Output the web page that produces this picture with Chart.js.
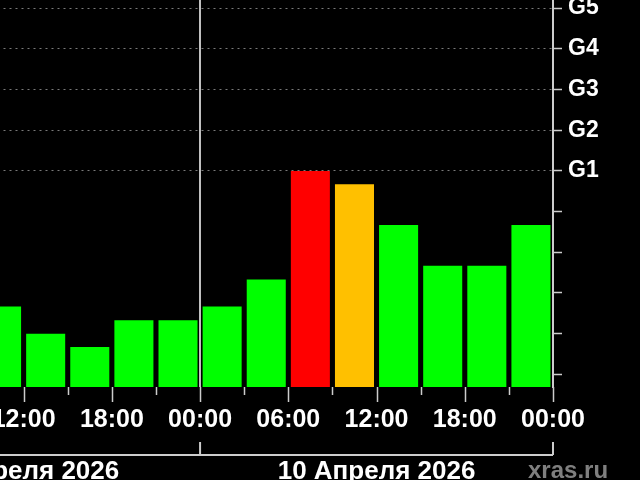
<!DOCTYPE html>
<html>
<head>
<meta charset="utf-8">
<script src="https://cdn.jsdelivr.net/npm/chart.js@4/dist/chart.umd.min.js"></script>
<style>
  html, body { margin: 0; padding: 0; background: #000; overflow: hidden; }
  #wrap { position: relative; width: 640px; height: 480px; overflow: hidden; }
  #kpChart { position: absolute; left: -40px; top: 0; }
</style>
</head>
<body>
<div id="wrap"><canvas id="kpChart" width="680" height="480"></canvas></div>
<script>
// start hour of each 3h interval, counted from 9 Apr 00:00
const hours = [9, 12, 15, 18, 21, 24, 27, 30, 33, 36, 39, 42, 45];
const kp = [1.67, 1.0, 0.67, 1.33, 1.33, 1.67, 2.33, 5.0, 4.67, 3.67, 2.67, 2.67, 3.67];

const kpTicks = [0, 1, 2, 3, 4, 5, 6, 7, 8, 9];
const kpLabels = ['', '', '', '', '', 'G1', 'G2', 'G3', 'G4', 'G5'];

const timeTicks = [9, 12, 15, 18, 21, 24, 27, 30, 33, 36, 39, 42, 45, 48];
const timeLabels = ['', '12:00', '', '18:00', '', '00:00', '', '06:00', '', '12:00', '', '18:00', '', '00:00'];

const dayNames = ['9 Апреля 2026', '10 Апреля 2026'];
const dayStarts = [0, 24];

const Y_MIN = -0.31;
const Y_MAX = 9.2;
const FONT = '"Liberation Sans", Arial, sans-serif';

const kpColor = (v) => v >= 5 ? '#ff0000' : (v >= 4 ? '#ffc000' : '#00ff00');

const extras = {
  id: 'extras',
  afterDraw(chart) {
    const ctx = chart.ctx;
    const x = chart.scales.x;
    const bottom = chart.chartArea.bottom;
    ctx.save();
    ctx.strokeStyle = '#cccccc';
    ctx.lineWidth = 1.5;
    // time ticks, longer on labelled hours
    timeTicks.forEach((t, i) => {
      const px = Math.round(x.getPixelForValue(t)) + 0.5;
      const len = timeLabels[i] ? 15 : 8;
      ctx.beginPath();
      ctx.moveTo(px, bottom);
      ctx.lineTo(px, bottom + len);
      ctx.stroke();
    });
    // day bracket
    ctx.lineWidth = 2;
    const yb = 455;
    ctx.beginPath();
    ctx.moveTo(0, yb);
    ctx.lineTo(x.getPixelForValue(48), yb);
    ctx.stroke();
    [24, 48].forEach(t => {
      const px = x.getPixelForValue(t);
      ctx.beginPath();
      ctx.moveTo(px, yb);
      ctx.lineTo(px, yb - 13);
      ctx.stroke();
    });
    // day names
    ctx.fillStyle = '#ffffff';
    ctx.font = 'bold 26px ' + FONT;
    ctx.textAlign = 'center';
    ctx.textBaseline = 'alphabetic';
    dayNames.forEach((name, i) => {
      ctx.fillText(name, x.getPixelForValue(dayStarts[i] + 12) + (i === 0 ? 4 : 0), 479);
    });
    // site mark
    ctx.fillStyle = '#7f7f7f';
    ctx.font = 'bold 24px ' + FONT;
    ctx.textAlign = 'left';
    ctx.fillText('xras.ru', 568, 478);
    ctx.restore();
  }
};

new Chart(document.getElementById('kpChart'), {
  type: 'bar',
  data: {
    datasets: [{
      data: hours.map((h, i) => ({ x: h + 1.5, y: kp[i] })),
      backgroundColor: (c) => kpColor(c.raw ? c.raw.y : 0),
      base: Y_MIN,
      barPercentage: 0.885,
      categoryPercentage: 1.0,
      borderWidth: 0
    }]
  },
  options: {
    responsive: false,
    animation: false,
    layout: { padding: { left: 19.5, right: 0, top: 0, bottom: 0 } },
    plugins: {
      legend: { display: false },
      tooltip: { enabled: false }
    },
    scales: {
      x: {
        type: 'linear',
        min: 9,
        max: 48,
        offset: false,
        afterBuildTicks: (s) => { s.ticks = timeTicks.map(v => ({ value: v })); },
        afterFit: (s) => { s.height = 93; s.paddingLeft = 0; s.paddingRight = 0; },
        ticks: {
          autoSkip: false,
          maxRotation: 0,
          minRotation: 0,
          padding: 18,
          color: '#ffffff',
          font: { family: FONT, size: 25, weight: 'bold' },
          callback: (v, i) => timeLabels[i]
        },
        grid: {
          drawTicks: false,
          offset: false,
          lineWidth: 2,
          color: (c) => (c.tick && c.tick.value === 24) ? '#c0c0c0' : 'transparent'
        },
        border: { display: false }
      },
      y: {
        position: 'right',
        min: Y_MIN,
        max: Y_MAX,
        afterBuildTicks: (s) => { s.ticks = kpTicks.map(v => ({ value: v })); },
        afterFit: (s) => { s.width = 87; s.paddingTop = 0; s.paddingBottom = 0; },
        ticks: {
          autoSkip: false,
          padding: 6,
          color: '#ffffff',
          font: { family: FONT, size: 23, weight: 'bold' },
          callback: (v, i) => kpLabels[i]
        },
        grid: {
          drawTicks: true,
          tickLength: 9,
          tickColor: '#cccccc',
          tickWidth: 1.5,
          lineWidth: 1,
          color: (c) => (c.tick && c.tick.value >= 5) ? '#7a7a7a' : 'transparent'
        },
        border: { display: true, color: '#cccccc', width: 2, dash: [2, 4] }
      }
    }
  },
  plugins: [extras]
});
</script>
</body>
</html>
